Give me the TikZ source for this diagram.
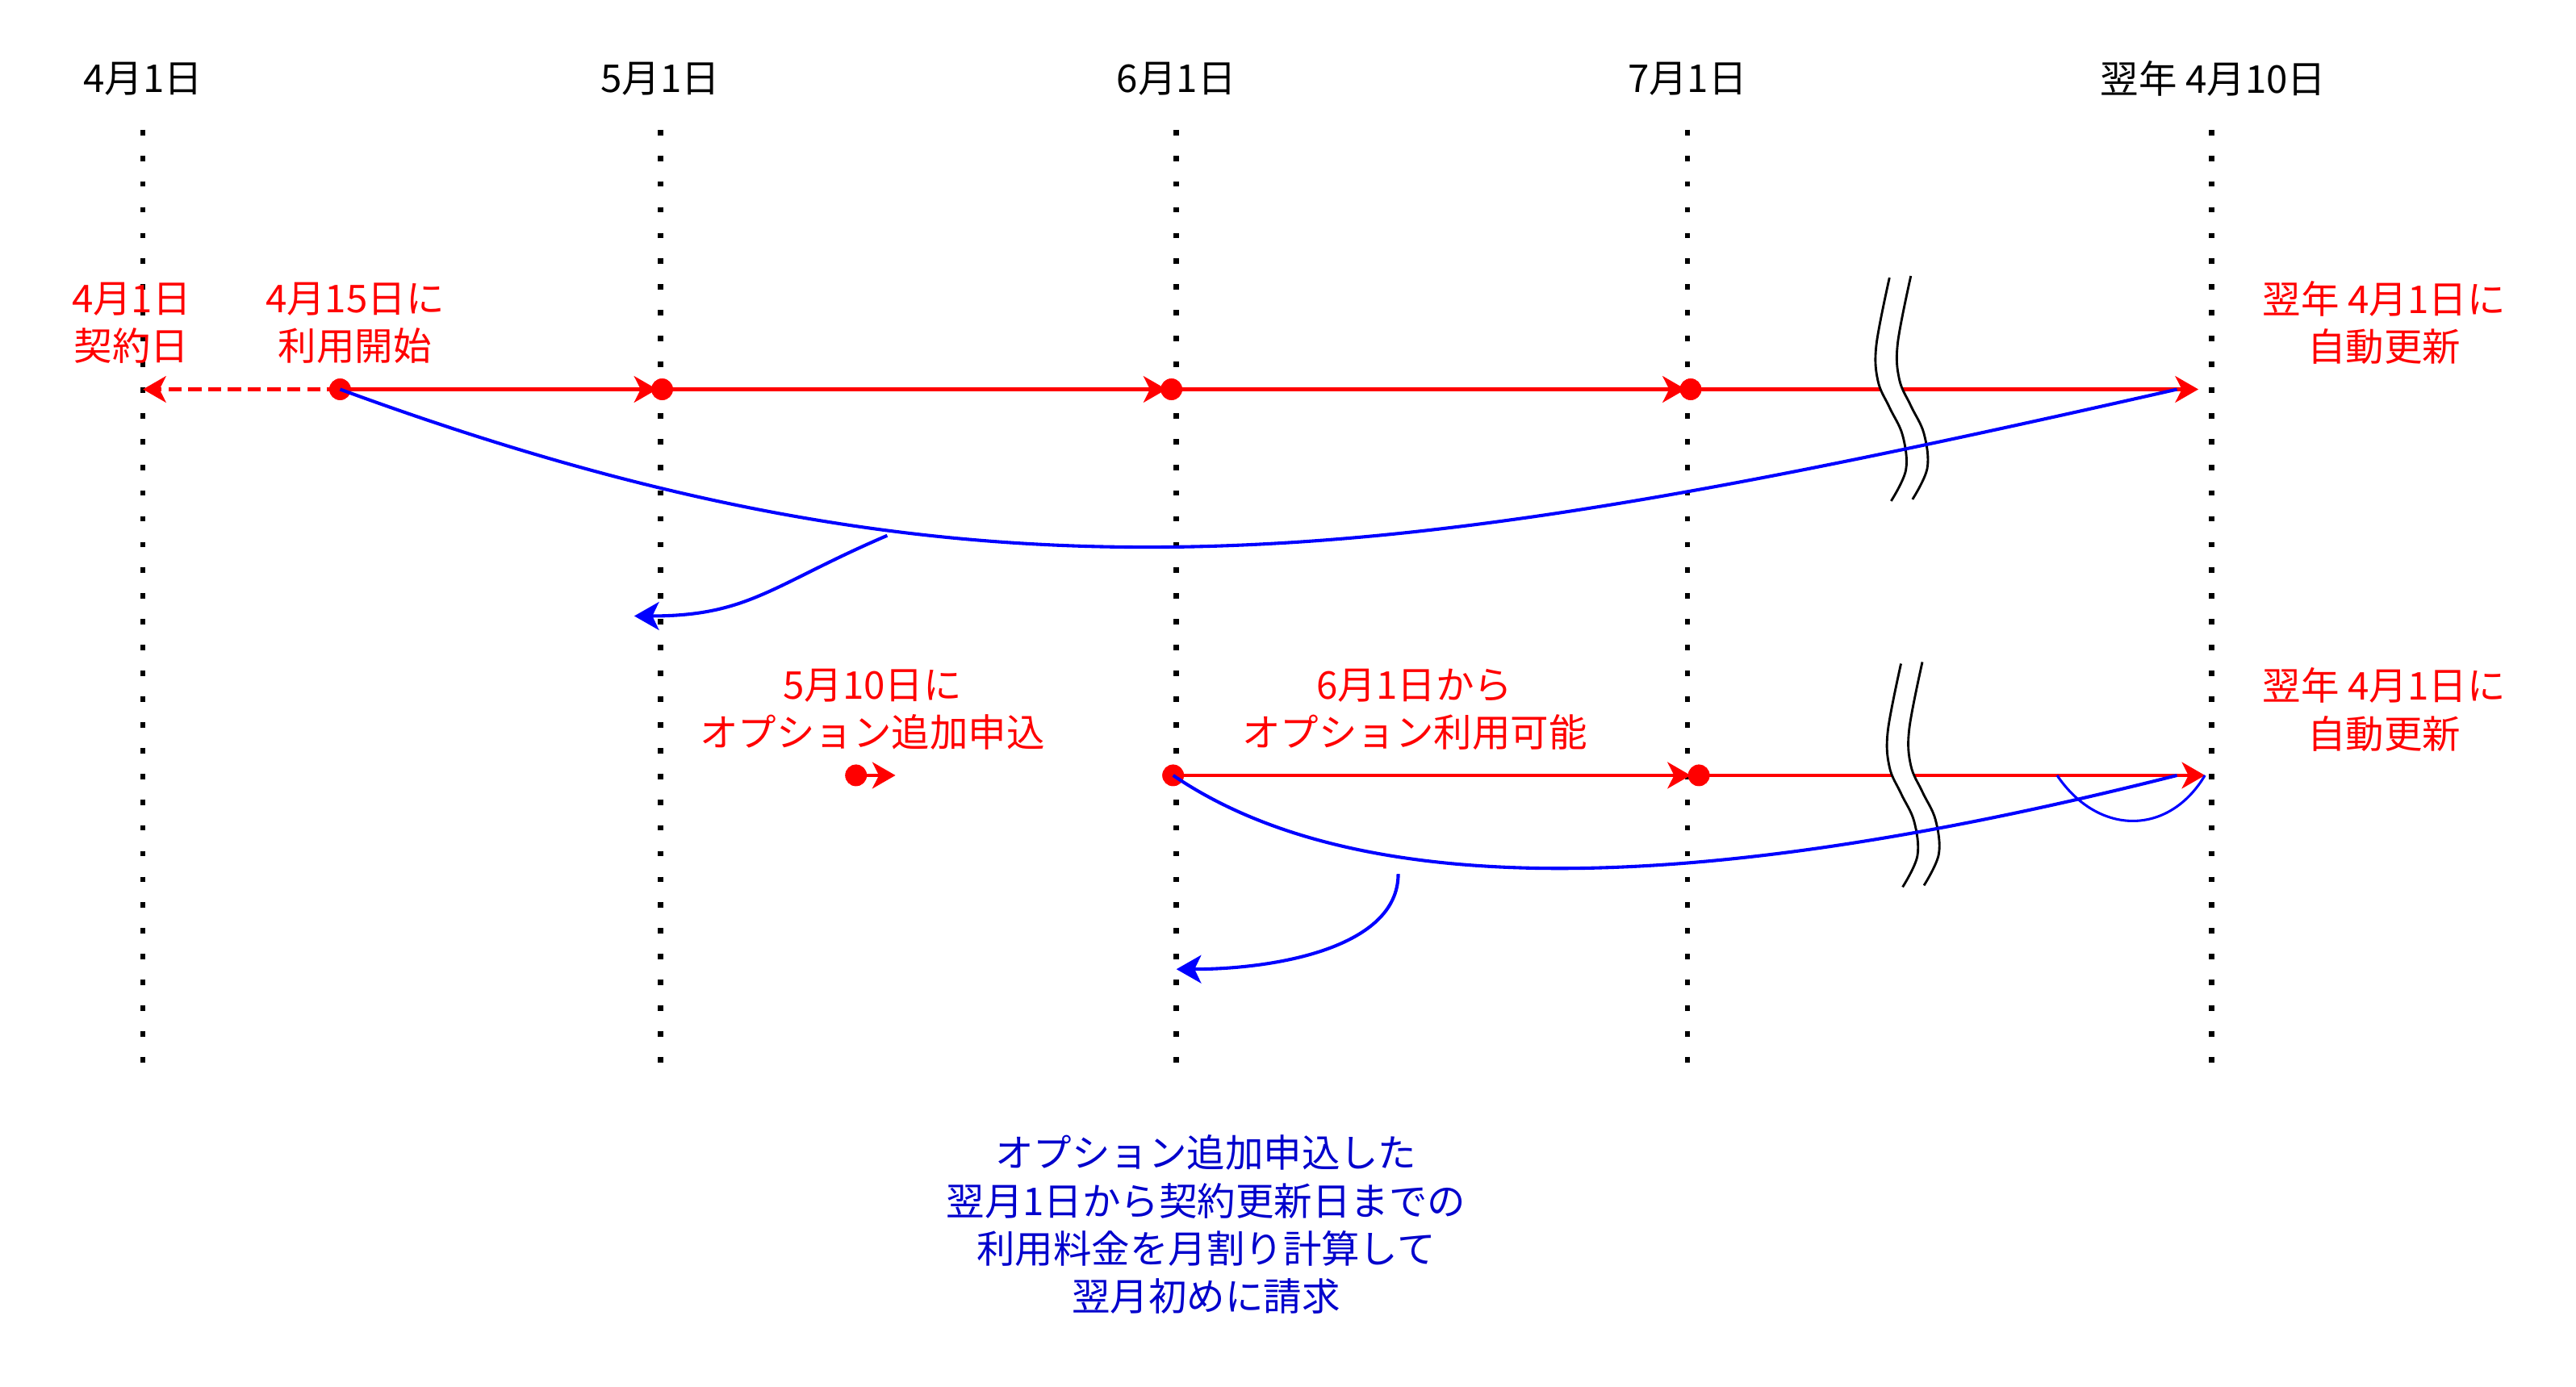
\documentclass[tikz,border=0pt]{standalone}
\usepackage{fontspec}
\setmainfont{Noto Sans CJK JP}
\usetikzlibrary{arrows.meta}
\definecolor{myred}{RGB}{255,0,0}
\definecolor{myblue}{RGB}{0,0,255}
\definecolor{textblue}{RGB}{0,0,204}
\begin{document}
\begin{tikzpicture}[x=0.4975pt,y=-0.4975pt,
  lbl/.style={font=\fontsize{11.6pt}{14.5pt}\selectfont, align=center, inner sep=0pt},
  redlbl/.style={lbl, text=myred},
  datelbl/.style={lbl, text=black},
  guide/.style={draw=black, line width=1.6pt, dash pattern=on 1.65pt off 6.15pt},
  redline/.style={draw=myred, line width=1pt},
  redarrow/.style={redline, -{Stealth[length=7pt,width=8pt,inset=2pt]}},
  reddashed/.style={redarrow, dash pattern=on 4pt off 2pt},
  dot/.style={circle, fill=myred, inner sep=0pt, minimum size=6.5pt},
  bluecurve/.style={draw=myblue, line width=1pt},
  bluethin/.style={draw=myblue, line width=0.75pt},
  bluearrow/.style={bluecurve, -{Stealth[length=7.5pt,width=8.5pt,inset=2pt]}},
  brk/.style={draw=black, line width=0.7pt},
]
\useasboundingbox[fill=white] (0pt,0pt) rectangle (780pt,-420pt);

% guide lines
\foreach \n/\x in {1/87,2/402,3/716,4/1027,5/1346}{
  \coordinate (g\n t) at (\x,79);
  \coordinate (g\n b) at (\x,650);
  \draw[guide] (g\n t) -- (g\n b);
}

% date labels
\node[datelbl] (d1) at (87,48) {4月1日};
\node[datelbl] (d2) at (402,48) {5月1日};
\node[datelbl] (d3) at (716,48) {6月1日};
\node[datelbl] (d4) at (1027,48) {7月1日};
\node[datelbl] (d5) at (1347,48) {翌年 4月10日};

% red labels
\node[redlbl] (l1) at (80,196.5) {4月1日\\契約日};
\node[redlbl] (l2) at (216,196.5) {4月15日に\\利用開始};
\node[redlbl] (l3) at (1451,196.5) {翌年 4月1日に\\自動更新};
\node[redlbl] (l4) at (531,432) {5月10日に\\オプション追加申込};
\node[redlbl] (l5) at (861,432) {6月1日から\\オプション利用可能};
\node[redlbl] (l6) at (1451,432) {翌年 4月1日に\\自動更新};

% row 1
\node[dot] (r1a) at (207,237) {};
\node[dot] (r1b) at (403,237) {};
\node[dot] (r1c) at (713,237) {};
\node[dot] (r1d) at (1029,237) {};
\coordinate (r1s) at (87,237);
\coordinate (r1e) at (1338,237);
\draw[reddashed] (r1a.center) -- (r1s);
\draw[redarrow] (r1a.center) -- ([xshift=-1.5pt]r1b.center);
\draw[redarrow] (r1b.center) -- ([xshift=-1.5pt]r1c.center);
\draw[redarrow] (r1c.center) -- ([xshift=-1.5pt]r1d.center);
\draw[redarrow] (r1d.center) -- (r1e);
\node[dot] at (r1a) {};
\node[dot] at (r1b) {};
\node[dot] at (r1c) {};
\node[dot] at (r1d) {};

% row 2
\node[dot] (r2a) at (521,472) {};
\node[dot] (r2b) at (714,472) {};
\node[dot] (r2c) at (1034,472) {};
\coordinate (r2at) at (545,472);
\coordinate (r2e) at (1342,472);
\draw[redarrow] (r2a.center) -- (r2at);
\draw[redarrow] (r2b.center) -- ([xshift=-2.5pt]r2c.center);
\draw[redarrow] (r2c.center) -- (r2e);
\node[dot] at (r2a) {};
\node[dot] at (r2b) {};
\node[dot] at (r2c) {};

% break marks
\foreach \dx/\dy in {0/0,7/235}{
\begin{scope}[shift={(\dx,\dy)}]
\fill[white] plot[smooth,tension=0.6] coordinates {(1150,169) (1142,210) (1143,232) (1150,248) (1158,265) (1160,286) (1151,305)}
  -- plot[smooth,tension=0.6] coordinates {(1164,304) (1173,285) (1171,264) (1163,247) (1156,231) (1155,209) (1163,168)} -- cycle;
\draw[brk] plot[smooth,tension=0.6] coordinates {(1150,169) (1142,210) (1143,232) (1150,248) (1158,265) (1160,286) (1151,305)};
\draw[brk] plot[smooth,tension=0.6] coordinates {(1163,168) (1155,209) (1156,231) (1163,247) (1171,264) (1173,285) (1164,304)};
\end{scope}
}

% blue curves row 1
\coordinate (b1e) at (1325,237);
\coordinate (b1m) at (540,326);
\coordinate (b1t) at (386,375);
\draw[bluecurve] (r1a.center) .. controls +(395,145) and +(-485,110) .. (b1e);
\draw[bluearrow] (b1m) .. controls +(-70,30) and +(70,0) .. (b1t);

% blue curves row 2
\coordinate (b2e) at (1325,472);
\coordinate (b2m) at (851,532);
\coordinate (b2t) at (716,590);
\coordinate (u1) at (1252,472);
\draw[bluecurve] (r2b.center) .. controls +(110,75) and +(-300,76) .. (b2e);
\draw[bluearrow] (b2m) .. controls +(0,45) and +(60,0) .. (b2t);
\draw[bluethin] (u1) .. controls +(25,37) and +(-22,37) .. (r2e);

% note
\node[lbl, text=textblue] (note) at (734,745.5) {オプション追加申込した\\翌月1日から契約更新日までの\\利用料金を月割り計算して\\翌月初めに請求};
\end{tikzpicture}
\end{document}
